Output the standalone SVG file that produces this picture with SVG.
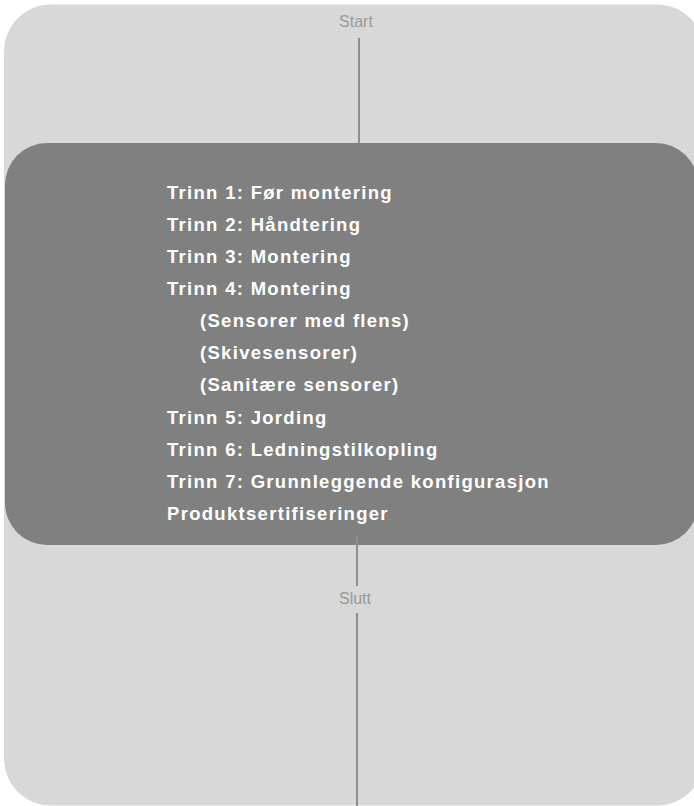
<svg xmlns="http://www.w3.org/2000/svg" width="694" height="806" viewBox="0 0 694 806">
<style>
.lbl{font-family:"Liberation Sans",Arial,sans-serif;font-size:16px;fill:#9a9a9a;text-anchor:middle}
.item{font-family:"Liberation Sans",Arial,sans-serif;font-size:18.5px;font-weight:bold;fill:#ffffff;letter-spacing:1.3px}
.conn{stroke:#8e8e8e;stroke-width:2;fill:none}
</style>
<g id="outer">
<rect x="4" y="4.5" width="700" height="801" rx="47" ry="47" fill="#d8d8d8"/>
</g>
<g id="start">
<text class="lbl" x="356" y="27">Start</text>
</g>
<g id="connectors">
<line class="conn" x1="359" y1="38" x2="359" y2="143"/>
</g>
<g id="steps">
<rect x="5" y="143" width="693" height="402" rx="42" ry="42" fill="#808080"/>
<text class="item" x="167" y="198.5">Trinn 1: Før montering</text>
<text class="item" x="167" y="230.7">Trinn 2: Håndtering</text>
<text class="item" x="167" y="262.8">Trinn 3: Montering</text>
<text class="item" x="167" y="295">Trinn 4: Montering</text>
<text class="item" x="200" y="327.1">(Sensorer med flens)</text>
<text class="item" x="200" y="359.3">(Skivesensorer)</text>
<text class="item" x="200" y="391.4">(Sanitære sensorer)</text>
<text class="item" x="167" y="423.6">Trinn 5: Jording</text>
<text class="item" x="167" y="455.7">Trinn 6: Ledningstilkopling</text>
<text class="item" x="167" y="487.9">Trinn 7: Grunnleggende konfigurasjon</text>
<text class="item" x="167" y="520">Produktsertifiseringer</text>
</g>
<g id="connectors2">
<line class="conn" x1="357" y1="537" x2="357" y2="586"/>
<line class="conn" x1="357" y1="613" x2="357" y2="806"/>
</g>
<g id="end">
<text class="lbl" x="355" y="603.5">Slutt</text>
</g>
</svg>
